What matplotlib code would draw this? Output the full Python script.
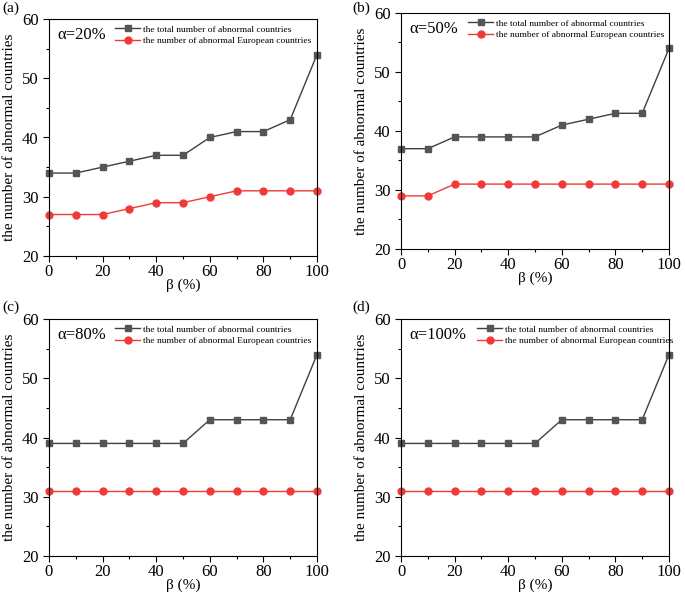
import matplotlib
matplotlib.use('Agg')
import matplotlib.pyplot as plt

plt.rcParams['font.family'] = ['Liberation Serif', 'DejaVu Serif']
plt.rcParams['mathtext.fontset'] = 'stix'

beta = [0, 10, 20, 30, 40, 50, 60, 70, 80, 90, 100]

total_a = [34, 34, 35, 36, 37, 37, 40, 41, 41, 43, 54]
euro_a = [27, 27, 27, 28, 29, 29, 30, 31, 31, 31, 31]
total_b = [37, 37, 39, 39, 39, 39, 41, 42, 43, 43, 54]
euro_b = [29, 29, 31, 31, 31, 31, 31, 31, 31, 31, 31]
total_c = [39, 39, 39, 39, 39, 39, 43, 43, 43, 43, 54]
euro_c = [31, 31, 31, 31, 31, 31, 31, 31, 31, 31, 31]
total_d = [39, 39, 39, 39, 39, 39, 43, 43, 43, 43, 54]
euro_d = [31, 31, 31, 31, 31, 31, 31, 31, 31, 31, 31]

alphas = ['α=20%', 'α=50%', 'α=80%', 'α=100%']
panel_labels = ['(a)', '(b)', '(c)', '(d)']
totals = [total_a, total_b, total_c, total_d]
euros = [euro_a, euro_b, euro_c, euro_d]

W, H = 685, 597
fig = plt.figure(figsize=(W / 100, H / 100), dpi=100)

# axes boxes in pixels: left, top, right, bottom
boxes = [(49, 19, 317, 256), (401, 13, 669, 249), (49, 319, 317, 556), (401, 319, 669, 556)]
leg_x = [0.239, 0.243, 0.239, 0.276]
lab_pos = [(2, 8), (352, 8), (2, 307), (352, 307)]

for i in range(4):
    l, t, r, b = boxes[i]
    ax = fig.add_axes([l / W, 1 - b / H, (r - l) / W, (b - t) / H])
    ax.plot(beta, totals[i], color='#404040', lw=1, marker='s', ms=4.5,
            mfc='#555555', mec='#555555', label='the total number of abnormal countries', clip_on=False)
    ax.plot(beta, euros[i], color='#f03a3a', lw=1, marker='o', ms=5,
            mfc='#f03a3a', mec='#f03a3a', label='the number of abnormal European countries', clip_on=False)
    ax.set_xlim(0, 100)
    ax.set_ylim(20, 60)
    ax.set_xticks([0, 20, 40, 60, 80, 100])
    ax.set_xticks([10, 30, 50, 70, 90], minor=True)
    ax.set_yticks([20, 30, 40, 50, 60])
    ax.set_yticks([25, 35, 45, 55], minor=True)
    ax.tick_params(labelsize=12, direction='out', length=4, width=0.8)
    ax.tick_params(which='minor', direction='out', length=2.5, width=0.8)
    ax.tick_params(axis='x', pad=2)
    ax.set_xlabel('β (%)', fontsize=11, labelpad=-1)
    ax.set_ylabel('the number of abnormal countries', fontsize=11, labelpad=4)
    ax.text(0.03, 0.965, alphas[i], transform=ax.transAxes, fontsize=12, va='top', ha='left')
    ax.legend(loc='upper left', bbox_to_anchor=(leg_x[i], 0.985), frameon=False, fontsize=6.8,
              handlelength=2.6, handletextpad=0.3, borderaxespad=0, borderpad=0.25, labelspacing=0.35)
    fig.text(lab_pos[i][0] / W, 1 - lab_pos[i][1] / H, panel_labels[i], fontsize=11, va='center', ha='left')

fig.savefig('out.png', dpi=100)
